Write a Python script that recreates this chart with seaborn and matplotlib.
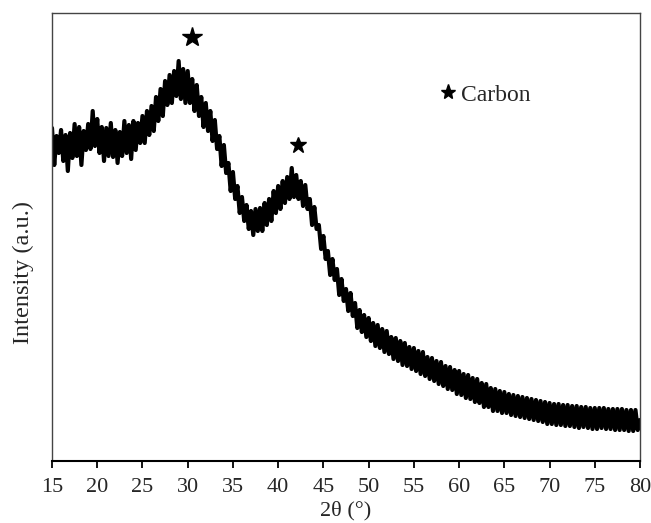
import numpy as np
import pandas as pd
import matplotlib
matplotlib.use("Agg")
import matplotlib.pyplot as plt
from matplotlib.lines import Line2D
import seaborn as sns

# Intensity (a.u.), 0.25 deg steps from 15 to 80 deg
intensity = [
    333, 296, 325, 308,  331, 300, 326, 290,  328, 303, 337, 305,  334, 296, 330, 311,
    337, 312, 350, 315,  342, 308, 334, 300,  333, 305, 338, 304,  331, 298, 329, 305,
    340, 308, 336, 302,  340, 311, 338, 318,  345, 318, 350, 326,  355, 330, 364, 340,
    372, 345, 380, 356,  386, 358, 390, 365,  400, 362, 392, 358,  390, 358, 382, 350,
    376, 345, 364, 334,  358, 330, 350, 320,  341, 312, 325, 295,  316, 288, 298, 270,
    289, 262, 275, 248,  264, 240, 256, 232,  250, 226, 252, 230,  253, 230, 258, 236,
    262, 240, 270, 248,  275, 252, 280, 258,  284, 262, 293, 264,  286, 262, 280, 255,
    276, 252, 262, 236,  254, 232, 236, 212,  225, 202, 210, 186,  202, 181, 192, 166,
    182, 160, 172, 150,  168, 145, 158, 133,  151, 129, 146, 124,  143, 120, 138, 115,
    136, 113, 132, 109,  130, 107, 124, 102,  123, 100, 120, 96,   118, 95, 114, 92,
    113, 90, 110, 87,    109, 85, 104, 82,    103, 80, 100, 77,    99, 75, 95, 72,
    94, 71, 91, 67,      90, 66, 87, 63,      86, 62, 83, 59,      82, 58, 78, 54,
    77, 54, 73, 50,      72, 50, 70, 48,      69, 48, 67, 46,      66, 45, 65, 44,
    64, 43, 63, 42,      62, 41, 61, 40,      60, 39, 59, 37,      58, 37, 57, 36,
    57, 36, 56, 35,      56, 35, 55, 34,      55, 33, 54, 34,      54, 33, 53, 32,
    53, 32, 53, 33,      53, 32, 52, 32,      52, 31, 52, 31,      52, 31, 51, 30,
    51, 30, 51, 31,      41,
]
scan_start, scan_end = 15, 80
two_theta = np.linspace(scan_start, scan_end, len(intensity))

peak_positions = [30.5, 42.2]
peak_heights = [424, 316]
peak_sizes = [15, 12]

x_ticks = [15, 20, 25, 30, 35, 40, 45, 50, 55, 60, 65, 70, 75, 80]

df = pd.DataFrame({"two_theta": two_theta, "intensity": intensity})

sns.set_theme(style="white")
plt.rcParams["font.family"] = ["Liberation Serif", "DejaVu Serif"]

fig = plt.figure(figsize=(6.51, 5.23), dpi=100)
ax = fig.add_axes([52 / 651, 62 / 523, 588 / 651, 448 / 523])

sns.lineplot(data=df, x="two_theta", y="intensity", ax=ax, color="black",
             linewidth=3.0, estimator=None, sort=False)

for px, py, ps in zip(peak_positions, peak_heights, peak_sizes):
    ax.plot([px], [py], marker="*", markersize=ps, color="black", linestyle="none")

handle = Line2D([], [], marker="*", markersize=11, color="black", linestyle="none")
ax.legend([handle], ["Carbon"], loc="center left", bbox_to_anchor=(0.663, 0.817),
          frameon=False, fontsize=17, handlelength=0.55, handletextpad=0.25,
          borderpad=0, borderaxespad=0)

ax.set_xlim(15, 80)
ax.set_ylim(0, 448)
ax.set_xticks(x_ticks)
ax.set_yticks([])
ax.tick_params(axis="x", direction="out", length=5, width=1.3, labelsize=16,
               color="black", pad=7, bottom=True)
ax.set_xlabel("2θ (°)", fontsize=16, labelpad=3)
ax.set_ylabel("Intensity (a.u.)", fontsize=17.5)
ax.yaxis.set_label_coords(-0.031, 0.42)

for side in ["top", "right", "left"]:
    ax.spines[side].set_color("#444444")
    ax.spines[side].set_linewidth(1.0)
ax.spines["bottom"].set_color("black")
ax.spines["bottom"].set_linewidth(1.5)

fig.savefig("out.png", dpi=100)
